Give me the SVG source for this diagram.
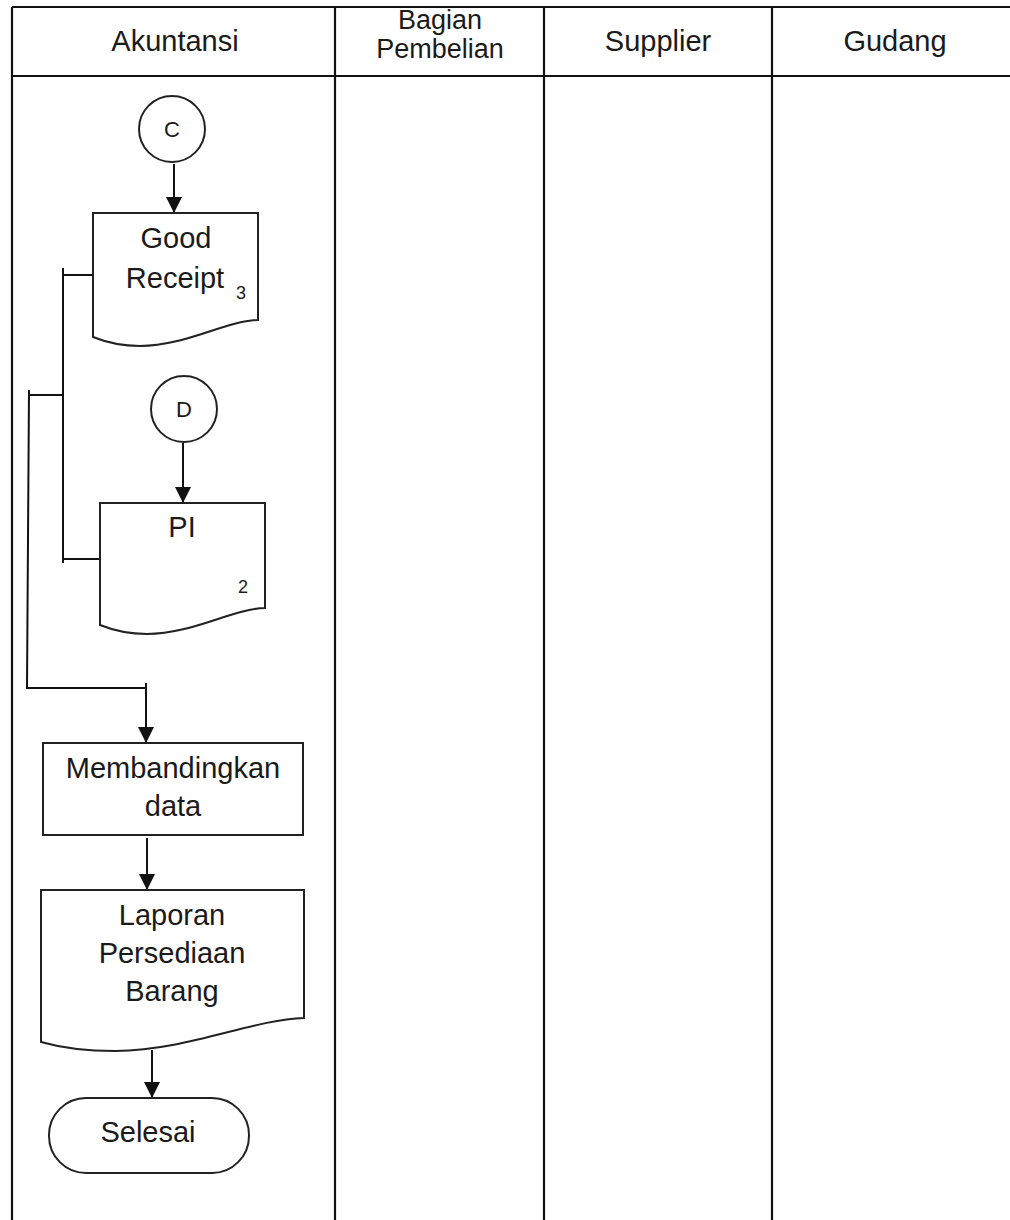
<svg xmlns="http://www.w3.org/2000/svg" width="1010" height="1220" viewBox="0 0 1010 1220">
<style>
  .lane{stroke:#111;stroke-width:2.2;fill:none}
  .shape{stroke:#222;stroke-width:2;fill:#fff}
  .line{stroke:#111;stroke-width:2;fill:none}
  .t{font-family:"Liberation Sans",Arial,sans-serif;font-size:29px;fill:#1a1a1a;text-anchor:middle}
  .h{font-family:"Liberation Sans",Arial,sans-serif;font-size:27px;fill:#1a1a1a;text-anchor:middle}
  .s{font-family:"Liberation Sans",Arial,sans-serif;font-size:18px;fill:#1a1a1a;text-anchor:middle}
  .c{font-family:"Liberation Sans",Arial,sans-serif;font-size:22px;fill:#1a1a1a;text-anchor:middle}
</style>
<defs>
  <marker id="arr" markerUnits="userSpaceOnUse" markerWidth="16" markerHeight="16" refX="16" refY="8" orient="auto">
    <path d="M0,0 L16,8 L0,16 Z" fill="#111"/>
  </marker>
</defs>
<rect width="1010" height="1220" fill="#fff"/>
<g id="lanes">
  <path class="lane" d="M12,7 H1010 M12,76 H1010 M12,7 V1220 M335,7 V1220 M544,7 V1220 M772,7 V1220"/>
  <text class="t" x="175" y="51">Akuntansi</text>
  <text class="h" x="440" y="29">Bagian</text>
  <text class="h" x="440" y="58">Pembelian</text>
  <text class="t" x="658" y="51">Supplier</text>
  <text class="t" x="895" y="51">Gudang</text>
</g>
<g id="connectors">
  <path class="line" marker-end="url(#arr)" d="M174,164 V213"/>
  <path class="line" marker-end="url(#arr)" d="M183,443 V503"/>
  <path class="line" d="M93,275 H63 M63,268 V563 M63,559 H100 M63,395 H28 M29,390 L27,688 H146"/>
  <path class="line" marker-end="url(#arr)" d="M146,683 V743"/>
  <path class="line" marker-end="url(#arr)" d="M147,838 V890"/>
  <path class="line" marker-end="url(#arr)" d="M152,1050 V1098"/>
</g>
<g id="connector-c">
  <circle class="shape" cx="172" cy="129" r="33"/>
  <text class="c" x="172" y="137">C</text>
</g>
<g id="good-receipt">
  <path class="shape" d="M93,213 H258 V320 C225,321 185,346 140,346 C118,346 103,341 93,337 Z"/>
  <text class="t" x="176" y="248">Good</text>
  <text class="t" x="175" y="288">Receipt</text>
  <text class="s" x="241" y="299">3</text>
</g>
<g id="connector-d">
  <circle class="shape" cx="184" cy="409" r="33"/>
  <text class="c" x="184" y="417">D</text>
</g>
<g id="pi">
  <path class="shape" d="M100,503 H265 V608 C232,609 192,634 147,634 C125,634 110,629 100,625 Z"/>
  <text class="t" x="182" y="537">PI</text>
  <text class="s" x="243" y="593">2</text>
</g>
<g id="membandingkan">
  <rect class="shape" x="43" y="743" width="260" height="92"/>
  <text class="t" x="173" y="778">Membandingkan</text>
  <text class="t" x="173" y="816">data</text>
</g>
<g id="laporan">
  <path class="shape" d="M41,890 H304 V1018 C250,1020 190,1050 115,1051 C80,1051 55,1046 41,1042 Z"/>
  <text class="t" x="172" y="925">Laporan</text>
  <text class="t" x="172" y="963">Persediaan</text>
  <text class="t" x="172" y="1001">Barang</text>
</g>
<g id="selesai">
  <rect class="shape" x="49" y="1098" width="200" height="75" rx="37" ry="37"/>
  <text class="t" x="148" y="1142">Selesai</text>
</g>
</svg>
